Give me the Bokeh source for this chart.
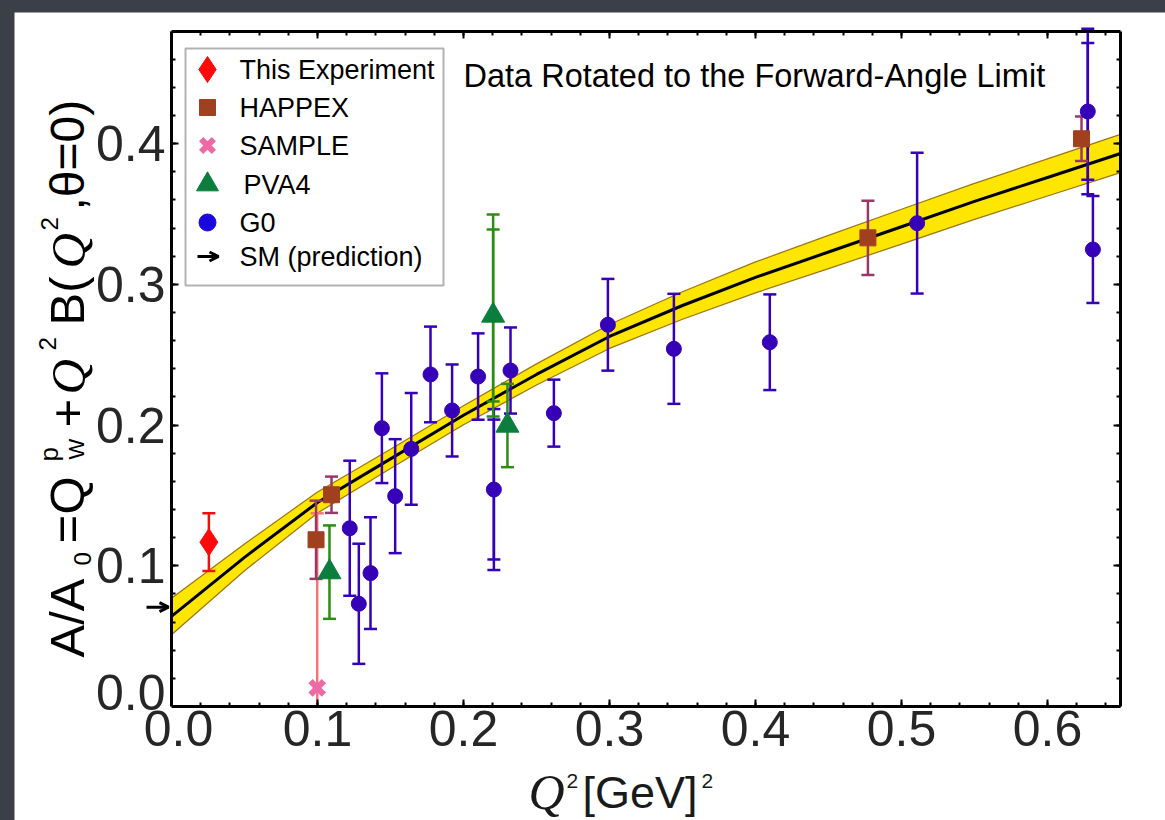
import math
from bokeh.plotting import figure
from bokeh.models import (ColumnDataSource, Label, Arrow, OpenHead, LinearAxis,
                          FixedTicker, PrintfTickFormatter, Range1d,
                          Spacer, BoxAnnotation)
from bokeh.layouts import column, row
from bokeh.embed import file_html
from bokeh.resources import INLINE

# ---------------- data ----------------
fit_q2 = [0.0, 0.05, 0.10, 0.15, 0.20, 0.25, 0.30, 0.35, 0.40, 0.45, 0.50, 0.55, 0.60, 0.65]
fit_center = [0.064, 0.106, 0.145, 0.176, 0.207, 0.236, 0.263, 0.285, 0.305, 0.323, 0.341, 0.359, 0.376, 0.393]
fit_halfwidth = [0.0130, 0.0095, 0.0075, 0.0068, 0.0068, 0.0075, 0.0085, 0.0098, 0.0110, 0.0118, 0.0124, 0.0128, 0.0132, 0.0136]

sm_prediction = 0.0706

this_q2 = [0.0256]
this_a = [0.1168]
this_err = [0.0205]

happex_q2 = [0.0990, 0.1096, 0.4770, 0.6233]
happex_a = [0.1185, 0.1505, 0.3331, 0.4035]
happex_err = [0.0278, 0.0129, 0.0264, 0.0158]

sample_q2 = [0.0998]
sample_a = [0.0133]
sample_err = [0.1240]

pva4_q2 = [0.1082, 0.2203, 0.2301]
pva4_a = [0.0955, 0.2779, 0.1997]
pva4_err = [0.0332, 0.0718, 0.0296]
pva4_inner_q2 = [0.2203]
pva4_inner_a = [0.2779]
pva4_inner_err = [0.0611]

g0_q2 = [0.1221, 0.1283, 0.1363, 0.1441, 0.1532, 0.1642, 0.1774, 0.1922, 0.2100,
         0.2208, 0.2322, 0.2619, 0.2989, 0.3441, 0.4098, 0.5107, 0.6276, 0.6311]
g0_a = [0.1267, 0.0730, 0.0948, 0.1978, 0.1495, 0.1831, 0.2360, 0.2104, 0.2345,
        0.1542, 0.2388, 0.2085, 0.2713, 0.2542, 0.2589, 0.3435, 0.4229, 0.3248]
g0_err = [0.0480, 0.0427, 0.0397, 0.0390, 0.0405, 0.0397, 0.0340, 0.0327, 0.0307,
          0.0572, 0.0306, 0.0238, 0.0326, 0.0391, 0.0340, 0.0500, 0.0588, 0.0380]
g0_inner_q2 = [0.2208, 0.6276]
g0_inner_a = [0.1542, 0.4229]
g0_inner_err = [0.0497, 0.0486]

legend_labels = ["This Experiment", "HAPPEX", "SAMPLE", "PVA4", "G0", "SM (prediction)"]
title_text = "Data Rotated to the Forward-Angle Limit"
x_major_ticks = [0.1, 0.2, 0.3, 0.4, 0.5, 0.6]
y_major_ticks = [0.1, 0.2, 0.3, 0.4]
XMAX, YMAX = 0.65, 0.48

# ---------------- layout helpers (page pixels -> data) ----------------
X0, Y0, SX, SY = 171.0, 706.0, 1460.0, 1407.0
LEFT_PX, TOP_PX, RIGHT_PX, BOTTOM_PX = 14, 12, 1165, 820


def dx(px):
    return (px - X0) / SX


def dy(py):
    return (Y0 - py) / SY


p = figure(frame_width=RIGHT_PX - LEFT_PX, frame_height=BOTTOM_PX - TOP_PX,
           x_range=Range1d(dx(LEFT_PX), dx(RIGHT_PX)), y_range=Range1d(dy(BOTTOM_PX), dy(TOP_PX)),
           min_border=0, min_border_left=0, min_border_right=0, min_border_top=0, min_border_bottom=0,
           output_backend="svg", toolbar_location=None,
           background_fill_color="white", border_fill_color="white")
p.xgrid.visible = False
p.ygrid.visible = False
p.outline_line_color = None

TICK_FONT = "Liberation Sans"
TICK_SIZE = "50px"
TICK_COL = "#262626"
minor_x = [i / 50 for i in range(1, 33)]
minor_y = [i / 50 for i in range(1, 24)]


def style(ax, ticker, bounds, loc, labels=True):
    ax.ticker = ticker
    ax.bounds = bounds
    ax.fixed_location = loc
    ax.formatter = PrintfTickFormatter(format="%.1f")
    ax.axis_line_color = "black"
    ax.axis_line_width = 3
    ax.major_tick_in = 7
    ax.major_tick_out = 0
    ax.minor_tick_in = 4
    ax.minor_tick_out = 0
    ax.major_tick_line_width = 2
    ax.minor_tick_line_width = 2
    ax.major_label_text_font = TICK_FONT
    ax.major_label_text_font_size = TICK_SIZE
    ax.major_label_text_color = TICK_COL if labels else None
    ax.major_label_standoff = 6


style(p.xaxis[0], FixedTicker(ticks=x_major_ticks, minor_ticks=minor_x), (0, XMAX), 0)
p.xaxis[0].major_label_standoff = 4
style(p.yaxis[0], FixedTicker(ticks=y_major_ticks, minor_ticks=minor_y), (0, YMAX), 0)
top_ax = LinearAxis()
right_ax = LinearAxis()
p.add_layout(top_ax, "above")
p.add_layout(right_ax, "right")
style(top_ax, FixedTicker(ticks=[0.0] + x_major_ticks, minor_ticks=minor_x), (0, XMAX), YMAX, labels=False)
style(right_ax, FixedTicker(ticks=[0.0] + y_major_ticks, minor_ticks=minor_y), (0, YMAX), XMAX, labels=False)

# the two "0.0" labels sit slightly apart from the corner, as in the original
zero_y_ax = LinearAxis()
zero_x_ax = LinearAxis()
p.add_layout(zero_y_ax, "left")
p.add_layout(zero_x_ax, "below")
for ax, tick in ((zero_y_ax, dy(692) - dy(706)), (zero_x_ax, dx(178) - dx(171))):
    style(ax, FixedTicker(ticks=[tick], minor_ticks=[]), "auto", 0)
    ax.axis_line_color = None
    ax.major_tick_line_color = None
    ax.minor_tick_line_color = None
zero_x_ax.major_label_standoff = 4

# ---------------- fit band ----------------
band_lo = [c - h for c, h in zip(fit_center, fit_halfwidth)]
band_hi = [c + h for c, h in zip(fit_center, fit_halfwidth)]
p.varea(x=fit_q2, y1=band_lo, y2=band_hi, fill_color="#ffe600")
p.line(fit_q2, band_lo, line_color="#9c7412", line_width=1.2)
p.line(fit_q2, band_hi, line_color="#9c7412", line_width=1.2)
p.line(fit_q2, fit_center, line_color="black", line_width=3)


def errbars(q2, a, err, color, cap=13, lw=2.5):
    lo = [v - e for v, e in zip(a, err)]
    hi = [v + e for v, e in zip(a, err)]
    lo_draw = [max(v, 0.0) for v in lo]          # clip to the plotting area
    src = ColumnDataSource(dict(x=q2, lo=lo_draw, hi=hi))
    p.segment(x0="x", y0="lo", x1="x", y1="hi", source=src, line_color=color, line_width=lw)
    cx = [x for x, v in zip(q2, lo) if v >= 0]
    cy = [v for v in lo if v >= 0]
    p.scatter(cx, cy, marker="dash", size=cap, line_color=color, line_width=lw)
    p.scatter(q2, hi, marker="dash", size=cap, line_color=color, line_width=lw)


G0_COL = "#3500b8"
errbars(g0_q2, g0_a, g0_err, G0_COL)
errbars(g0_inner_q2, g0_inner_a, g0_inner_err, G0_COL)
errbars(sample_q2, sample_a, sample_err, "#f87474")
errbars(happex_q2, happex_a, happex_err, "#9a3766")
errbars(pva4_q2, pva4_a, pva4_err, "#2c8c14")
errbars(pva4_inner_q2, pva4_inner_a, pva4_inner_err, "#2c8c14")
errbars(this_q2, this_a, this_err, "#f01010")

p.scatter(g0_q2, g0_a, marker="circle", size=15, fill_color=G0_COL, line_color=G0_COL)
p.scatter(pva4_q2, pva4_a, marker="triangle", size=23, fill_color="#0b7d3d", line_color="#0b7d3d")
p.scatter(happex_q2, happex_a, marker="square", size=16, fill_color="#a0401f", line_color="#a0401f")
p.scatter(sample_q2, sample_a, marker="x", size=19, line_color="#ee6aa7", line_width=6)
p.scatter(this_q2, this_a, marker="diamond", size=27, fill_color="#ff0a0a", line_color="#ff0a0a")

# SM arrow next to the axis
p.add_layout(Arrow(x_start=dx(146), y_start=sm_prediction, x_end=dx(168), y_end=sm_prediction,
                   line_width=3, line_color="black",
                   end=OpenHead(size=9, line_width=3, line_color="black")))

# ---------------- legend (drawn by hand) ----------------
p.add_layout(BoxAnnotation(left=dx(185), right=dx(443), top=dy(48), bottom=dy(285),
                           fill_color="white", fill_alpha=1.0, line_color="black",
                           line_width=2, level="underlay"))
row_y = [69, 107, 145, 184, 222, 256]
mx = dx(207)
p.scatter([mx], [dy(row_y[0])], marker="diamond", size=26, fill_color="#ff0a0a", line_color="#ff0a0a")
p.scatter([mx], [dy(row_y[1])], marker="square", size=16, fill_color="#a0401f", line_color="#a0401f")
p.scatter([mx], [dy(row_y[2])], marker="x", size=18, line_color="#ee6aa7", line_width=6)
p.scatter([mx], [dy(row_y[3])], marker="triangle", size=22, fill_color="#0b7d3d", line_color="#0b7d3d")
p.scatter([mx], [dy(row_y[4])], marker="circle", size=17, fill_color="#1c06e0", line_color="#1c06e0")
p.add_layout(Arrow(x_start=dx(197), y_start=dy(row_y[5]), x_end=dx(218), y_end=dy(row_y[5]),
                   line_width=3, line_color="black",
                   end=OpenHead(size=9, line_width=3, line_color="black")))
text_x = [239, 239, 239, 243, 239, 239]
for lab, tx, ty in zip(legend_labels, text_x, row_y):
    p.add_layout(Label(x=dx(tx), y=dy(ty), text=lab, text_font="Liberation Sans",
                       text_font_size="27px", text_baseline="middle", text_align="left",
                       text_color="black"))

# title inside the plot
p.add_layout(Label(x=dx(463), y=dy(75), text=title_text, text_font="Liberation Sans",
                   text_font_size="32.5px", text_baseline="middle", text_align="left",
                   text_color="black"))

# ---------------- axis titles built from pieces ----------------
ROT = math.pi / 2
SANS = "Liberation Sans"
SERIF = "Liberation Serif"
ylab_pieces = [
    # text, centre x px (across the glyphs), start y px, size, font, style
    ("A/A", 66.5, 657, 49, SANS, "normal"),
    ("0", 82, 565, 24, SANS, "normal"),
    ("=", 66.5, 543, 49, SANS, "normal"),
    ("Q", 66.5, 514, 49, SANS, "normal"),
    ("p", 48, 461, 26, SANS, "normal"),
    ("W", 75.5, 459, 22, SANS, "normal"),
    ("+", 66.5, 427, 49, SANS, "normal"),
    ("Q", 68, 394, 49, SERIF, "italic"),
    ("2", 46.5, 350, 24, SANS, "normal"),
    ("B(", 66.5, 325, 49, SANS, "normal"),
    ("Q", 68, 268, 49, SERIF, "italic"),
    ("2", 48.5, 230, 24, SANS, "normal"),
    (",θ=0)", 66.5, 210, 48, SANS, "normal"),
]
for txt, cx, sy, fs, fnt, sty in ylab_pieces:
    p.add_layout(Label(x=dx(cx), y=dy(sy), text=txt, angle=ROT, text_font=fnt,
                       text_font_style=sty, text_font_size=f"{fs}px", text_align="left",
                       text_baseline="middle", text_color="black"))

xlab_pieces = [
    # text, left x px, centre y px, size, font, style
    ("Q", 528, 791, 50, SERIF, "italic"),
    ("2", 566, 780, 21, SANS, "normal"),
    ("[GeV]", 582, 792, 45, SANS, "normal"),
    ("2", 701, 780, 21, SANS, "normal"),
]
for txt, lx, cy, fs, fnt, sty in xlab_pieces:
    p.add_layout(Label(x=dx(lx), y=dy(cy), text=txt, text_font=fnt, text_font_style=sty,
                       text_font_size=f"{fs}px", text_align="left",
                       text_baseline="middle", text_color="#1a1a1a"))

page = column(Spacer(height=TOP_PX), row(Spacer(width=LEFT_PX), p),
              styles={"background-color": "#3b3f47"})

open("out.html", "w").write(file_html(page, INLINE))
